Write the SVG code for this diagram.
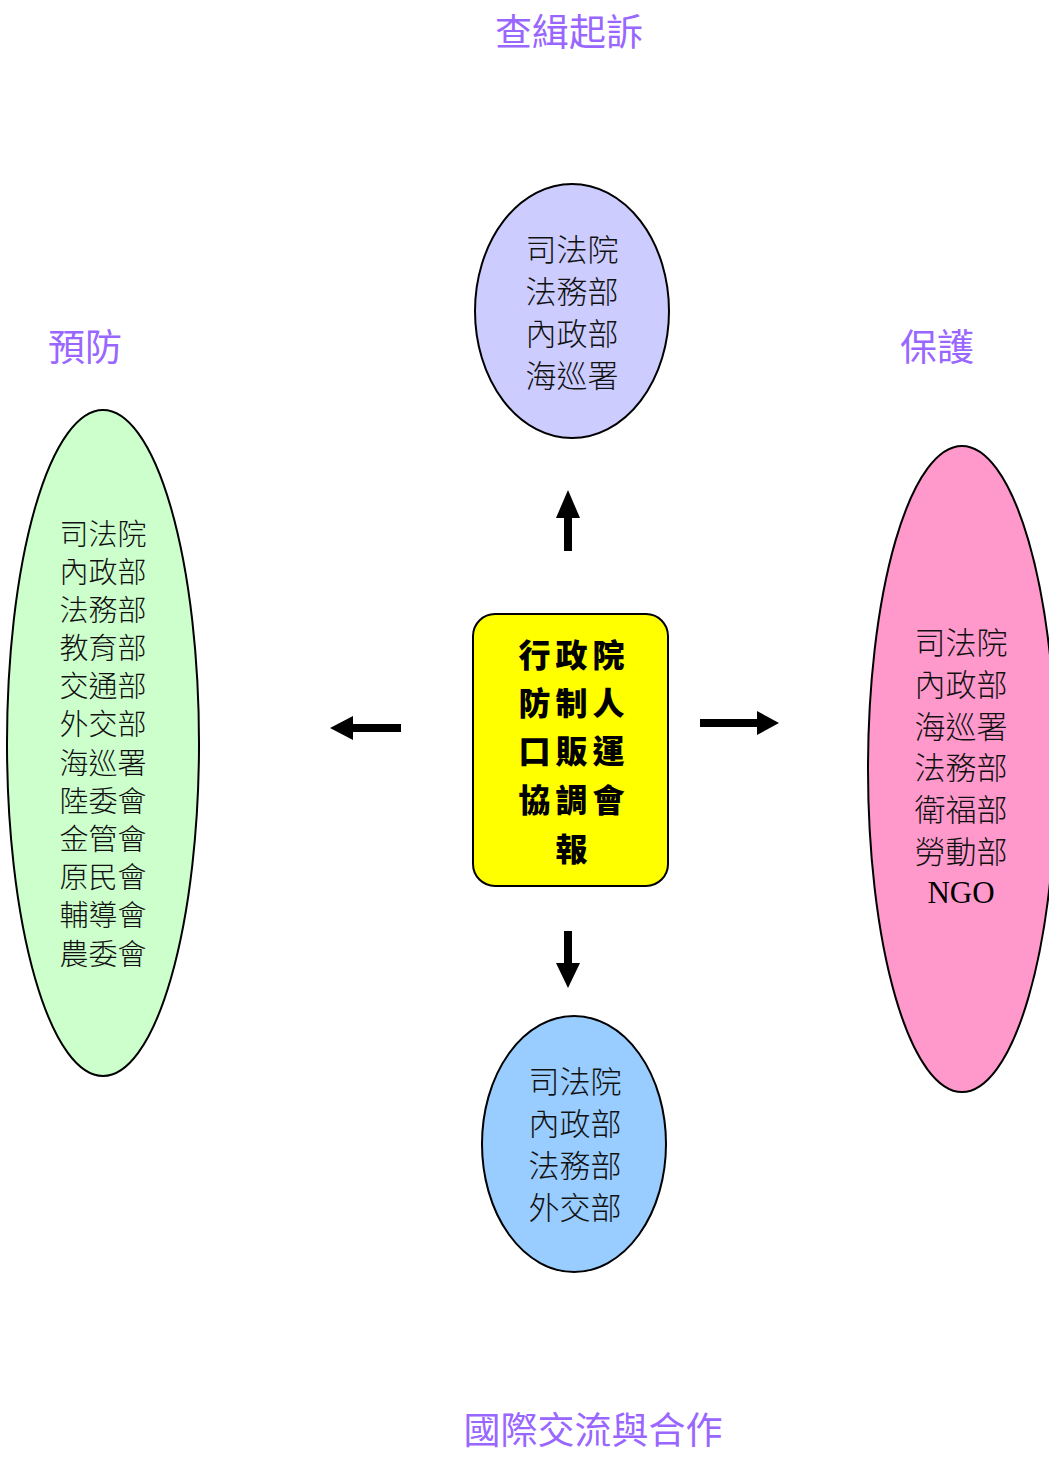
<svg xmlns="http://www.w3.org/2000/svg" width="1049" height="1461" viewBox="0 0 1049 1461">
<style>
.title{font-family:"Noto Sans CJK TC","Noto Sans CJK SC",sans-serif;font-size:37px;fill:#9966FF;text-anchor:middle}
.lbl{font-family:"Noto Sans CJK TC","Noto Sans CJK SC",sans-serif;font-weight:300;fill:#111;text-anchor:middle}
.ngo{font-family:"Liberation Serif",serif;fill:#000;text-anchor:middle}
.ctr{font-family:"Noto Sans CJK TC","Noto Sans CJK SC",sans-serif;font-weight:900;font-size:32px;fill:#000;text-anchor:middle;letter-spacing:5px}
.shape{stroke:#000;stroke-width:2}
</style>
<rect width="1049" height="1461" fill="#fff"/>
<g id="title-top"><text class="title" x="569" y="46">查緝起訴</text></g>
<g id="title-left"><text class="title" x="85" y="361">預防</text></g>
<g id="title-right"><text class="title" x="937" y="361">保護</text></g>
<g id="title-bottom"><text class="title" x="593" y="1444">國際交流與合作</text></g>

<g id="node-top">
<ellipse class="shape" cx="572" cy="311" rx="97" ry="127" fill="#CCCCFF"/>
<text class="lbl" font-size="31" x="572"><tspan x="572" y="261">司法院</tspan><tspan x="572" y="303">法務部</tspan><tspan x="572" y="345">內政部</tspan><tspan x="572" y="387">海巡署</tspan></text>
</g>
<g id="node-left">
<ellipse class="shape" cx="103" cy="743" rx="96" ry="333" fill="#CCFFCC"/>
<text class="lbl" font-size="29" x="103"><tspan x="103" y="545">司法院</tspan><tspan x="103" y="583">內政部</tspan><tspan x="103" y="621">法務部</tspan><tspan x="103" y="659">教育部</tspan><tspan x="103" y="697">交通部</tspan><tspan x="103" y="735">外交部</tspan><tspan x="103" y="774">海巡署</tspan><tspan x="103" y="812">陸委會</tspan><tspan x="103" y="850">金管會</tspan><tspan x="103" y="888">原民會</tspan><tspan x="103" y="926">輔導會</tspan><tspan x="103" y="965">農委會</tspan></text>
</g>
<g id="node-right">
<ellipse class="shape" cx="962" cy="769" rx="94" ry="323" fill="#FF99CC"/>
<text class="lbl" font-size="31" x="961"><tspan x="961" y="654">司法院</tspan><tspan x="961" y="696">內政部</tspan><tspan x="961" y="738">海巡署</tspan><tspan x="961" y="779">法務部</tspan><tspan x="961" y="821">衛福部</tspan><tspan x="961" y="863">勞動部</tspan></text>
<text class="ngo" font-size="31" x="961" y="903">NGO</text>
</g>
<g id="node-bottom">
<ellipse class="shape" cx="574" cy="1144" rx="92" ry="128" fill="#99CCFF"/>
<text class="lbl" font-size="31" x="575"><tspan x="575" y="1093">司法院</tspan><tspan x="575" y="1135">內政部</tspan><tspan x="575" y="1177">法務部</tspan><tspan x="575" y="1219">外交部</tspan></text>
</g>
<g id="node-center">
<rect class="shape" x="473" y="614" width="195" height="272" rx="22" fill="#FFFF00"/>
<text class="ctr"><tspan x="574" y="667">行政院</tspan><tspan x="574" y="715">防制人</tspan><tspan x="574" y="763">口販運</tspan><tspan x="574" y="812">協調會</tspan><tspan x="574" y="861">報</tspan></text>
</g>

<g id="connectors" fill="#000">
<polygon points="564,551 572,551 572,518 580,518 568,490 556,518 564,518"/>
<polygon points="564,931 572,931 572,963 580,963 568,988 556,963 564,963"/>
<polygon points="401,724 401,732 353,732 353,740 330,728 353,716 353,724"/>
<polygon points="700,719 700,727 757,727 757,735 779,723 757,711 757,719"/>
</g>
</svg>
